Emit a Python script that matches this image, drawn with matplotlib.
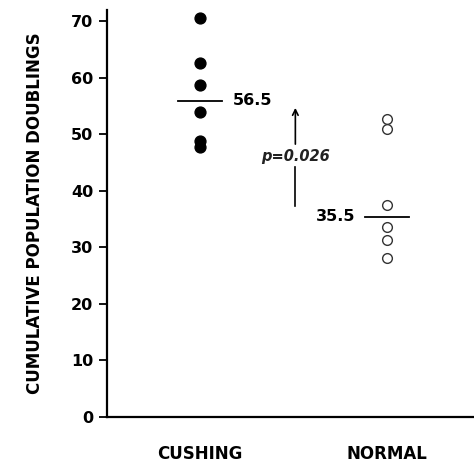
import matplotlib
matplotlib.use('Agg')
import matplotlib.pyplot as plt

# valores
groups = ['CUSHING', 'NORMAL']
cushing = [70.7, 62.6, 58.7, 53.9, 48.9, 47.8]
normal = [52.8, 51.0, 37.6, 33.6, 31.3, 28.2]
medians = [56.0, 35.4]
median_labels = ['56.5', '35.5']
p_text = 'p=0.026'
yticks = [0, 10, 20, 30, 40, 50, 60, 70]

plt.rcParams['font.family'] = 'DejaVu Sans'
plt.rcParams['font.weight'] = 'bold'

fig = plt.figure(figsize=(4.74, 4.62), dpi=100)
ax = fig.add_axes([0.2257, 0.0974, 0.7743, 0.8806])

x = [1, 2]
ax.plot([x[0]] * len(cushing), cushing, 'o', color='black', markersize=7.8, ls='none')
ax.plot([x[1]] * len(normal), normal, 'o', mfc='white', mec='#333333', mew=1.0,
        markersize=7, ls='none')

# lineas de mediana
for xi, m in zip(x, medians):
    ax.plot([xi - 0.12, xi + 0.12], [m, m], color='black', lw=1.3)

ax.text(x[0] + 0.175, medians[0], median_labels[0], fontsize=11.5, fontweight='bold',
        va='center', ha='left')
ax.text(x[1] - 0.17, medians[1], median_labels[1], fontsize=11.5, fontweight='bold',
        va='center', ha='right')

# flecha con p
xa = 1.51
ax.plot([xa, xa], [37.3, 44.3], color='black', lw=1.2)
ax.annotate('', xy=(xa, 55.2), xytext=(xa, 47.8),
            arrowprops=dict(arrowstyle='->', color='black', lw=1.2))
ax.text(xa, 46.1, p_text, fontsize=10.5, fontweight='bold', style='italic',
        ha='center', va='center', color='#222222')

ax.set_xlim(0.503, 2.465)
ax.set_ylim(0, 72)
ax.set_yticks(yticks)
ax.set_yticklabels([str(t) for t in yticks], fontsize=11.5, fontweight='bold')
ax.set_xticks(x)
ax.set_xticklabels(groups, fontsize=12, fontweight='bold')
ax.tick_params(axis='x', length=0, pad=20)
ax.tick_params(axis='y', length=6, width=1.3, direction='out', pad=4)
ax.set_ylabel('CUMULATIVE POPULATION DOUBLINGS', fontsize=12, fontweight='bold',
              labelpad=19)

ax.spines['top'].set_visible(False)
ax.spines['right'].set_visible(False)
ax.spines['left'].set_linewidth(1.6)
ax.spines['bottom'].set_linewidth(1.6)

fig.savefig('out.png', dpi=100)
